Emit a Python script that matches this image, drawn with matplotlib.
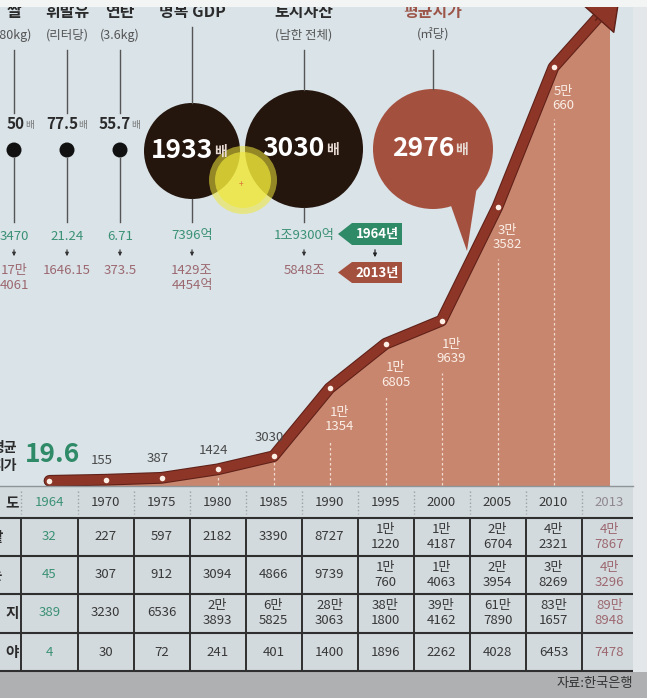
import numpy as np
import matplotlib.pyplot as plt
from matplotlib.patches import Circle, Polygon, Rectangle
from matplotlib.transforms import blended_transform_factory
import matplotlib.patheffects as pe

plt.rcParams['font.family'] = ['Noto Sans CJK KR', 'DejaVu Sans']

# ---- data ----
years = [1964, 1970, 1975, 1980, 1985, 1990, 1995, 2000, 2005, 2010, 2013]
avg_price = [19.6, 155, 387, 1424, 3030, 11354, 16805, 19639, 33582, 50660, 58330]  # 원/㎡

row_names = ['밭', '논', '대지', '임야']
field = [32, 227, 597, 2182, 3390, 8727, 11220, 14187, 26704, 42321, 47867]
paddy = [45, 307, 912, 3094, 4866, 9739, 10760, 14063, 23954, 38269, 43296]
housing = [389, 3230, 6536, 23893, 65825, 283063, 381800, 394162, 617890, 831657, 898948]
forest = [4, 30, 72, 241, 401, 1400, 1896, 2262, 4028, 6453, 7478]

items = ['쌀', '휘발유', '연탄', '명목 GDP', '토지자산', '평균지가']
units = ['(80kg)', '(리터당)', '(3.6kg)', '', '(남한 전체)', '(㎡당)']
ratios = [50, 77.5, 55.7, 1933, 3030, 2976]
val_1964 = ['3470', '21.24', '6.71', '7396억', '1조9300억']
val_2013 = ['17만\n4061', '1646.15', '373.5', '1429조\n4454억', '5848조']
source = '자료:한국은행'

GREEN = '#2f8a68'
BROWN = '#a4503f'
MAUVE = '#9c6870'
DARK = '#2b2b2b'


def man(n):
    # korean style: 1만\n1354
    if n >= 10000:
        return f'{int(n) // 10000}만\n{int(n) % 10000}'
    return f'{n:g}'


W, H = 647, 698
fig = plt.figure(figsize=(W / 100, H / 100), dpi=100)

bg = fig.add_axes([0, 0, 1, 1])
bg.set_xlim(0, W)
bg.set_ylim(H, 0)
bg.axis('off')

ax = fig.add_axes([0, 0, 1, 1], zorder=1)
ax.patch.set_alpha(0)
ax.axis('off')
x0, step = 49.5, 56.0          # px of first category, px per category
zero_px, k = 481.0, 0.008167   # px of value 0, px per won
ax.set_xlim(-x0 / step, (W - x0) / step)
ax.set_ylim((zero_px - H) / k, zero_px / k)

top = fig.add_axes([0, 0, 1, 1], zorder=2)
top.patch.set_alpha(0)
top.set_xlim(0, W)
top.set_ylim(H, 0)
top.axis('off')

# backgrounds
bg.add_patch(Rectangle((0, 0), W, H, color='#d9e3e8', lw=0))
bg.add_patch(Rectangle((0, 487), W, 185, color='#d3dadd', lw=0))
bg.add_patch(Rectangle((633, 0), W - 633, 672, color='#e3e7e9', lw=0))
bg.add_patch(Rectangle((0, 672), W, H - 672, color='#aeb0b2', lw=0))

# ---- land price line ----
xi = np.arange(len(years))
vals = np.array(avg_price)
ax.fill_between(xi, vals, -560, color='#c8866f', lw=0, zorder=1)
ax.plot(xi, vals, color='#8d3527', lw=7, solid_capstyle='round', solid_joinstyle='round', zorder=3,
        path_effects=[pe.Stroke(linewidth=8.5, foreground='#5e2018'), pe.Normal()])
dv = vals[-1] - vals[-2]
n = len(vals) - 2
ax.annotate('', xy=(n + 1.2, vals[-2] + 1.2 * dv), xytext=(n + 0.75, vals[-2] + 0.75 * dv),
            arrowprops=dict(arrowstyle='-|>,head_length=1.0,head_width=0.65', mutation_scale=24,
                            fc='#8d3527', ec='#5e2018', lw=1, shrinkA=0, shrinkB=0),
            annotation_clip=False, zorder=3)
ax.scatter(xi[:-1], vals[:-1], s=16, color='#fbefe6', lw=0, zorder=4)

for i, v in enumerate(vals[:-1]):
    if i == 0:
        ax.annotate(f'{v:g}', (i, v), xytext=(3, 26), textcoords='offset pixels', ha='center', va='center',
                    fontsize=19, fontweight='bold', color=GREEN, zorder=5)
    elif v < 10000:
        ax.annotate(f'{v:g}', (i, v), xytext=(-4, 19), textcoords='offset pixels', ha='center', va='center',
                    fontsize=9.5, color='#4a4a4a', zorder=5)
    else:
        ax.annotate(man(v), (i, v), xytext=(10, -31), textcoords='offset pixels', ha='center', va='center',
                    fontsize=9.5, color='#fbeee6', linespacing=1.15, zorder=5)
    if i >= 3:
        gap = 6 if v < 10000 else 52
        ax.vlines(i, -480, v - gap / k, colors='#f3dccf', linestyles=(0, (2, 2)), lw=0.9, zorder=2)

top.plot([0, 633], [486, 486], color='#8e9497', lw=1)
top.text(17, 457, '평균\n지가', ha='right', va='center', fontsize=10, fontweight='bold',
         color=DARK, linespacing=1.3)

# ---- table ----
tx = blended_transform_factory(ax.transData, top.transData)


def row_label(y, name):
    if len(name) == 1:
        top.text(-4.5, y, name, ha='center', va='center', fontsize=10.5, fontweight='bold', color=DARK)
    else:
        for c, x in zip(name, np.linspace(-27, 12, len(name))):
            top.text(x, y, c, ha='center', va='center', fontsize=10.5, fontweight='bold', color=DARK)


def col_color(i):
    if i == 0:
        return '#3b9174'
    if i == len(years) - 1:
        return MAUVE
    return '#383838'


row_label(503, '연도')
for i, yr in enumerate(years):
    c = col_color(i) if i < len(years) - 1 else '#8f8890'
    top.text(i, 503, str(yr), transform=tx, ha='center', va='center', fontsize=9.5, color=c)
    top.plot([i - 0.5] * 2, [491, 514], transform=tx, ls=':', color='#9aa2a6', lw=1)

row_y = [537, 575, 613, 652]
top.hlines([518, 556, 594, 633, 671], 0, 633, color='#2f2f2f', lw=1.5)
for i in range(len(years)):
    top.plot([i - 0.5] * 2, [518, 671], transform=tx, color='#2f2f2f', lw=1.4)

for y, name, row in zip(row_y, row_names, [field, paddy, housing, forest]):
    row_label(y, name)
    for i, v in enumerate(row):
        top.text(i, y, man(v), transform=tx, ha='center', va='center', fontsize=9.5,
                 color=col_color(i), linespacing=1.15)

top.text(633, 684, source, ha='right', va='center', fontsize=9.5, color='#333333')

# ---- price comparison on top ----
cx = [14, 67, 120, 192, 304, 433]
big_r = [48, 59, 60]
big_cy = [151, 149, 149]
big_col = ['#24150d', '#24150d', BROWN]
line_top = [50, 50, 50, 27, 50, 50]

for j, (name, unit, r) in enumerate(zip(items, units, ratios)):
    x = cx[j]
    top.text(x, 12, name, ha='center', va='center', fontsize=11.5, fontweight='bold',
             color='#9c5548' if j == 5 else DARK)
    if unit:
        top.text(x, 35, unit, ha='center', va='center', fontsize=9, color='#555555')
    if j < 3:
        top.plot([x, x], [50, 113], color='#555555', lw=1)
        top.plot([x, x], [158, 222], color='#555555', lw=1)
        top.add_patch(Circle((x, 150), 7.5, color='#111111', lw=0))
        top.text(x + 11, 124, f'{r:g}', ha='right', va='center', fontsize=11, fontweight='bold', color=DARK)
        top.text(x + 11, 125, '배', ha='left', va='center', fontsize=7, color='#777777')
    else:
        b = j - 3
        cy, rr = big_cy[b], big_r[b]
        top.plot([x, x], [line_top[j], cy - rr], color='#555555', lw=1)
        if j < 5:
            top.plot([x, x], [cy + rr, 222], color='#555555', lw=1)
        if j == 5:
            top.add_patch(Polygon([(450, 203), (467, 251), (477, 186)], color=BROWN, lw=0))
        top.add_patch(Circle((x, cy), rr, color=big_col[b], lw=0))
        top.text(x + 21, cy, f'{r:g}', ha='right', va='center', fontsize=19, fontweight='bold', color='white')
        top.text(x + 22, cy + 1, '배', ha='left', va='center', fontsize=10, fontweight='bold', color='#e6d9d2')
    if j < 5:
        top.text(x, 236, val_1964[j], ha='center', va='center', fontsize=9.5, color='#3b9174')
        top.annotate('', xy=(x, 259), xytext=(x, 247),
                     arrowprops=dict(arrowstyle='-|>', color='#333333', lw=0.8, mutation_scale=5))
        top.text(x, 264, val_2013[j], ha='center', va='top', fontsize=9.5, color=MAUVE, linespacing=1.2)

# year tags
for (y0, y1), txt, col in [((223, 245), '1964년', GREEN), ((262, 283), '2013년', BROWN)]:
    ym = (y0 + y1) / 2
    top.add_patch(Polygon([(338, ym), (352, y0), (402, y0), (402, y1), (352, y1)], color=col, lw=0))
    top.text(377, ym, txt, ha='center', va='center', fontsize=9.5, fontweight='bold', color='white')
top.annotate('', xy=(375, 260), xytext=(375, 247),
             arrowprops=dict(arrowstyle='-|>', color='#222222', lw=0.9, mutation_scale=5))

# cursor highlight from the video
top.add_patch(Circle((243, 180), 34, color='#f0e83a', alpha=0.55, lw=0))
top.add_patch(Circle((243, 180), 28, color='#f0e83a', alpha=0.65, lw=0))
top.text(241, 184, '+', ha='center', va='center', fontsize=6, color='#d9783a')

# top strip of video frame
top.add_patch(Rectangle((0, 0), W, 7, color='#f3f4f4', lw=0, zorder=10))

fig.savefig('out.png', dpi=100)
